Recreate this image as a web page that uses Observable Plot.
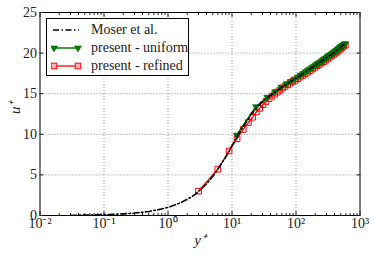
<!DOCTYPE html>
<html><head><meta charset="utf-8">
<script src="https://cdn.jsdelivr.net/npm/d3@7"></script>
<script src="https://cdn.jsdelivr.net/npm/@observablehq/plot@0.6"></script>
<style>
body{margin:0;background:#fff;}
#wrap{position:relative;width:374px;height:256px;font-family:'Liberation Serif',serif;}
#legend{position:absolute;left:46px;top:18px;width:143px;height:58px;border:1px solid #000;background:#fff;box-sizing:border-box;}
.row{position:absolute;left:0;height:16px;display:flex;align-items:center;font-size:14px;color:#222;font-family:'Liberation Serif',serif;white-space:nowrap;}
.row svg{margin-left:4px;margin-right:9px;}
</style></head><body>
<div id="wrap"><div id="chart"></div><div id="legend"></div></div>
<script>
// Moser et al. (DNS) profile
const moserY = [0.03,0.05,0.07,0.1,0.15,0.2,0.3,0.4,0.5,0.7,1,1.5,2,2.5,3,4,5,6,7,8,9,10,12,14,16,18,20,25,30,35,40,45,50,60,70,80,100,120,150,200,250,300,350,400,450,500,550,590];
const moserU = [0.03,0.05,0.07,0.1,0.15,0.2,0.3,0.4,0.5,0.7,1,1.5,2,2.45,2.95,3.9,4.8,5.7,6.5,7.2,7.9,8.6,9.7,10.6,11.3,11.9,12.5,13.4,14.0,14.45,14.8,15.1,15.35,15.8,16.15,16.45,16.9,17.3,17.8,18.5,19.0,19.45,19.8,20.1,20.45,20.75,21.0,21.15];
// present - uniform
const uniY = [11.8,23.6,35.4,47.2,59,70.8,82.6,94.4,106.2,118,129.8,141.6,153.4,165.2,177,188.8,200.6,212.4,224.2,236,247.8,259.6,271.4,283.2,295,306.8,318.6,330.4,342.2,354,365.8,377.6,389.4,401.2,413,424.8,436.6,448.4,460.2,472,483.8,495.6,507.4,519.2,531,542.8,554.6,566.4,578.2,590];
const uniU = [9.9,13.4,14.55,15.25,15.8,16.2,16.5,16.8,17.05,17.3,17.5,17.7,17.9,18.05,18.2,18.35,18.5,18.65,18.75,18.85,18.95,19.1,19.2,19.3,19.4,19.5,19.6,19.7,19.75,19.85,19.9,20.0,20.05,20.15,20.2,20.3,20.35,20.45,20.5,20.6,20.65,20.75,20.8,20.85,20.9,20.95,21.0,21.05,21.1,21.15];
// present - refined
const refY = [3,6,9,12,15,18,21,24,27,30.5,34,38,42,46.5,51,56,61.5,67.5,74,81,89,97,106,116,127,139,152,166,181,197,214,232,251,271,292,314,337,361,386,412,439,467,496,526,557,590];
const refU = [3.0,5.7,7.95,9.45,10.6,11.45,12.1,12.75,13.2,13.65,14.05,14.4,14.7,14.95,15.2,15.45,15.7,15.9,16.1,16.3,16.5,16.65,16.85,17.05,17.25,17.45,17.65,17.85,18.05,18.25,18.45,18.6,18.8,18.95,19.15,19.35,19.5,19.7,19.85,20.0,20.15,20.35,20.5,20.7,20.85,21.0];
// ticks
const xMajor = [0.01,0.1,1,10,100,1000];
const xMinorMult = [2,3,4,5,6,7,8,9];
const yTicks = [0,5,10,15,20,25];
const labels = {x:"y⁺", y:"u⁺", moser:"Moser et al.", uni:"present - uniform", ref:"present - refined"};

const zip = (xs, ys) => xs.map((x, i) => ({x, y: ys[i]}));
const moser = zip(moserY, moserU), uni = zip(uniY, uniU), ref = zip(refY, refU);
const xMinor = xMajor.slice(0, -1).flatMap(d => xMinorMult.map(m => m * d));
const sup = {"-":"⁻","0":"⁰","1":"¹","2":"²","3":"³"};
const fmtPow = d => "10" + String(Math.round(Math.log10(d))).split("").map(c => sup[c]).join("");
const triDown = {draw(ctx, size){const w = Math.sqrt(size)*1.15, h = w*0.9; ctx.moveTo(-w/2,-h/3); ctx.lineTo(w/2,-h/3); ctx.lineTo(0,2*h/3); ctx.closePath();}};
const GREEN = "#008000", RED = "#ff0000";
const blank = () => "";
const FONT = "'Liberation Serif',serif";

const plot = Plot.plot({
  width: 374, height: 256,
  marginTop: 12, marginRight: 14.5, marginBottom: 41, marginLeft: 39.5,
  x: {type: "log", domain: [0.01, 1000]},
  y: {domain: [0, 25]},
  style: {fontFamily: FONT, fontSize: "14px", background: "#fff", color: "#222"},
  marks: [
    Plot.gridX(xMajor.slice(1, -1), {stroke: "#888", strokeOpacity: 1, strokeDasharray: "1,2"}),
    Plot.gridY(yTicks.slice(1, -1), {stroke: "#888", strokeOpacity: 1, strokeDasharray: "1,2"}),
    Plot.line(ref, {x: "x", y: "y", stroke: RED, strokeWidth: 1.3}),
    Plot.dot(ref, {x: "x", y: "y", symbol: "square", r: 3.2, stroke: RED, strokeWidth: 1, fill: "none"}),
    Plot.line(uni, {x: "x", y: "y", stroke: GREEN, strokeWidth: 1.5}),
    Plot.dot(uni, {x: "x", y: "y", symbol: triDown, r: 3.3, stroke: "#006400", strokeWidth: 0.6, fill: GREEN}),
    Plot.line(moser, {x: "x", y: "y", stroke: "#000", strokeWidth: 1.6, strokeDasharray: "6,2.5,1.5,2.5"}),
    Plot.frame({stroke: "#000", strokeWidth: 1}),
    Plot.axisX({ticks: xMajor, anchor: "bottom", tickSize: -4, tickPadding: 7, tickFormat: fmtPow, label: null, fontSize: 14, fontFamily: FONT}),
    Plot.axisX({ticks: xMinor, anchor: "bottom", tickSize: -2, tickFormat: blank, label: null}),
    Plot.axisX({ticks: xMajor, anchor: "top", tickSize: -4, tickFormat: blank, label: null}),
    Plot.axisX({ticks: xMinor, anchor: "top", tickSize: -2, tickFormat: blank, label: null}),
    Plot.axisY({ticks: yTicks, anchor: "left", tickSize: -4, tickPadding: 7, label: null, fontSize: 14, fontFamily: FONT}),
    Plot.axisY({ticks: yTicks, anchor: "right", tickSize: -4, tickFormat: blank, label: null}),
    Plot.text([labels.x], {text: d => d, frameAnchor: "bottom", dy: 29, fontStyle: "italic", fontSize: 15, fontFamily: FONT}),
    Plot.text([labels.y], {text: d => d, frameAnchor: "left", dx: -25, rotate: -90, fontStyle: "italic", fontSize: 15, fontFamily: FONT})
  ]
});
document.getElementById("chart").appendChild(plot);

// legend
const legend = document.getElementById("legend");
const entries = [
  {label: labels.moser, top: 3, sw: `<line x1="2" y1="7" x2="28" y2="7" stroke="#000" stroke-width="1.6" stroke-dasharray="6,2.5,1.5,2.5"/>`},
  {label: labels.uni, top: 21, sw: `<line x1="3" y1="7" x2="27" y2="7" stroke="${GREEN}" stroke-width="1.5"/>` +
     [3,27].map(x => `<path d="M${x-3.5},${7-2} L${x+3.5},${7-2} L${x},${7+4} Z" fill="${GREEN}" stroke="#006400" stroke-width="0.6"/>`).join("")},
  {label: labels.ref, top: 39, sw: `<line x1="3" y1="7" x2="27" y2="7" stroke="${RED}" stroke-width="1.3"/>` +
     [3,27].map(x => `<rect x="${x-2.8}" y="${7-2.8}" width="5.6" height="5.6" fill="#ffb0b0" stroke="${RED}" stroke-width="1"/>`).join("")}
];
for (const e of entries) {
  const row = document.createElement("div");
  row.className = "row";
  row.style.top = e.top + "px";
  row.innerHTML = `<svg width="31" height="14" viewBox="0 0 31 14">${e.sw}</svg><span>${e.label}</span>`;
  legend.appendChild(row);
}
</script>
</body></html>
